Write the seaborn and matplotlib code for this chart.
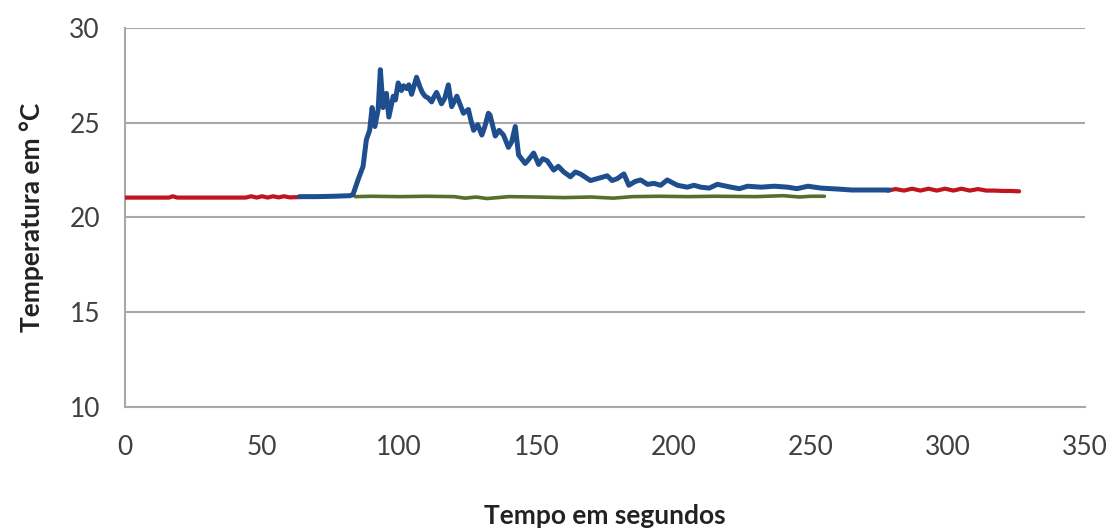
import matplotlib
matplotlib.use("Agg")
import matplotlib.pyplot as plt
import seaborn as sns
import pandas as pd

# ---- data ----
# red series is visible in two stretches (the middle is hidden under the blue one)
red_seg = [1] * 17 + [2] * 17
red_x = [0, 8, 16, 17.5, 19, 28, 38, 44, 46, 48, 50, 52, 54, 56, 58, 60, 64,
         278, 281, 284, 287, 290, 293, 296, 299, 302, 305,
         308, 311, 314, 317, 320, 323, 326]
red_y = [21.05, 21.05, 21.05, 21.12, 21.05, 21.05, 21.05, 21.05, 21.12, 21.05, 21.12,
         21.05, 21.12, 21.06, 21.12, 21.06, 21.08,
         21.42, 21.5, 21.42, 21.52, 21.42, 21.52, 21.42, 21.52,
         21.42, 21.52, 21.42, 21.5, 21.42, 21.42, 21.4, 21.4, 21.38]

green_x = [84, 90, 100, 110, 120, 124, 128, 132, 136, 140, 150, 160, 170, 178,
           185, 195, 205, 215, 230, 240, 246, 250, 255]
green_y = [21.1, 21.12, 21.1, 21.12, 21.1, 21.02, 21.08, 21.0, 21.05, 21.1, 21.08,
           21.05, 21.08, 21.02, 21.1, 21.12, 21.1, 21.12, 21.1, 21.15, 21.08, 21.12, 21.12]

blue_x = [63.6, 70, 76, 82, 83.1, 85, 86.8, 88, 89.2, 90.1, 91.1, 92.3, 93.1, 94.1,
          95.3, 96.2, 97.8, 98.6, 99.6, 100.8, 101.6, 102.7, 103.5, 104.5, 106.3,
          107.5, 108.4, 109.4, 110.6, 111.8, 112.6, 113.6, 115.4, 116.6, 117.9,
          119.1, 120.0, 121, 123.4, 125.2, 126.0, 127.1, 128.6, 130.1, 131.2, 132.5,
          133.1, 135, 136.4, 138, 139.8, 141.0, 142.3, 143.5, 145.9, 147.4, 149,
          150.8, 152.3, 153.9, 156.3, 158.0, 160, 162.4, 164.2, 166, 169.7, 172.2,
          175.8, 177.6, 179.5, 181.9, 183.7, 186.0, 188, 190.5, 192.9, 195.3, 197.7,
          201.4, 205, 207.5, 209.9, 213.0, 216, 220.9, 224.0, 227, 231.9, 236.8,
          241.6, 245.0, 249, 253.8, 260, 265, 272, 278.7]
blue_y = [21.1, 21.1, 21.12, 21.15, 21.2, 22.0, 22.7, 24.1, 24.6, 25.8, 24.8, 25.7,
          27.8, 25.8, 26.55, 25.3, 26.4, 26.2, 27.1, 26.7, 26.95, 26.8, 27.0, 26.5,
          27.4, 26.9, 26.6, 26.4, 26.3, 26.1, 26.35, 26.6, 26.0, 26.3, 27.0,
          25.85, 26.1, 26.4, 25.5, 25.7, 25.2, 24.6, 24.9, 24.35, 24.8, 25.5,
          25.4, 24.3, 24.6, 24.35, 23.7, 24.0, 24.8, 23.3, 22.85, 23.1, 23.4,
          22.8, 23.1, 23.0, 22.5, 22.7, 22.4, 22.15, 22.4, 22.3, 21.95, 22.05,
          22.2, 21.95, 22.05, 22.3, 21.7, 21.9, 21.98, 21.75, 21.8, 21.7, 21.98,
          21.7, 21.6, 21.7, 21.6, 21.55, 21.75, 21.6, 21.52, 21.65, 21.6, 21.65,
          21.6, 21.52, 21.65, 21.55, 21.5, 21.45, 21.45, 21.45]

x_ticks = [0, 50, 100, 150, 200, 250, 300, 350]
y_ticks = [10, 15, 20, 25, 30]
x_label = "Tempo em segundos"
y_label = "Temperatura em °C"

sns.set_theme(style="white")
plt.rcParams["font.family"] = ["Lato", "DejaVu Sans"]

fig = plt.figure(figsize=(11.13, 5.30), dpi=100)
ax = fig.add_axes([0.1123, 0.2321, 0.8625, 0.7151])

df_r = pd.DataFrame({"x": red_x, "y": red_y, "seg": red_seg})
df_g = pd.DataFrame({"x": green_x, "y": green_y})
df_b = pd.DataFrame({"x": blue_x, "y": blue_y})

sns.lineplot(data=df_r, x="x", y="y", units="seg", ax=ax, color="#C0141E",
             linewidth=3.0, estimator=None, sort=False, zorder=3)
sns.lineplot(data=df_g, x="x", y="y", ax=ax, color="#55702A", linewidth=2.6,
             estimator=None, sort=False, zorder=4)
sns.lineplot(data=df_b, x="x", y="y", ax=ax, color="#1F4E8F", linewidth=3.6,
             estimator=None, sort=False, zorder=5)

ax.set_xlim(0, 350)
ax.set_ylim(10, 30)
ax.set_xticks(x_ticks)
ax.set_yticks(y_ticks)
ax.set_xticklabels([str(v) for v in x_ticks])
ax.set_yticklabels([str(v) for v in y_ticks])
ax.tick_params(axis="both", length=0, labelsize=19, labelcolor="#404040")
ax.tick_params(axis="y", pad=18)
ax.tick_params(axis="x", pad=20)

ax.yaxis.grid(True, color="#A8A8A8", linewidth=1.5)
ax.xaxis.grid(False)
for s in ["top", "right"]:
    ax.spines[s].set_visible(False)
for s in ["left", "bottom"]:
    ax.spines[s].set_color("#A8A8A8")
    ax.spines[s].set_linewidth(1.5)

ax.set_xlabel(x_label, fontsize=19, fontweight="bold", color="#222222", labelpad=32)
ax.set_ylabel(y_label, fontsize=19, fontweight="bold", color="#222222", labelpad=18)

fig.savefig("out.png", dpi=100)
